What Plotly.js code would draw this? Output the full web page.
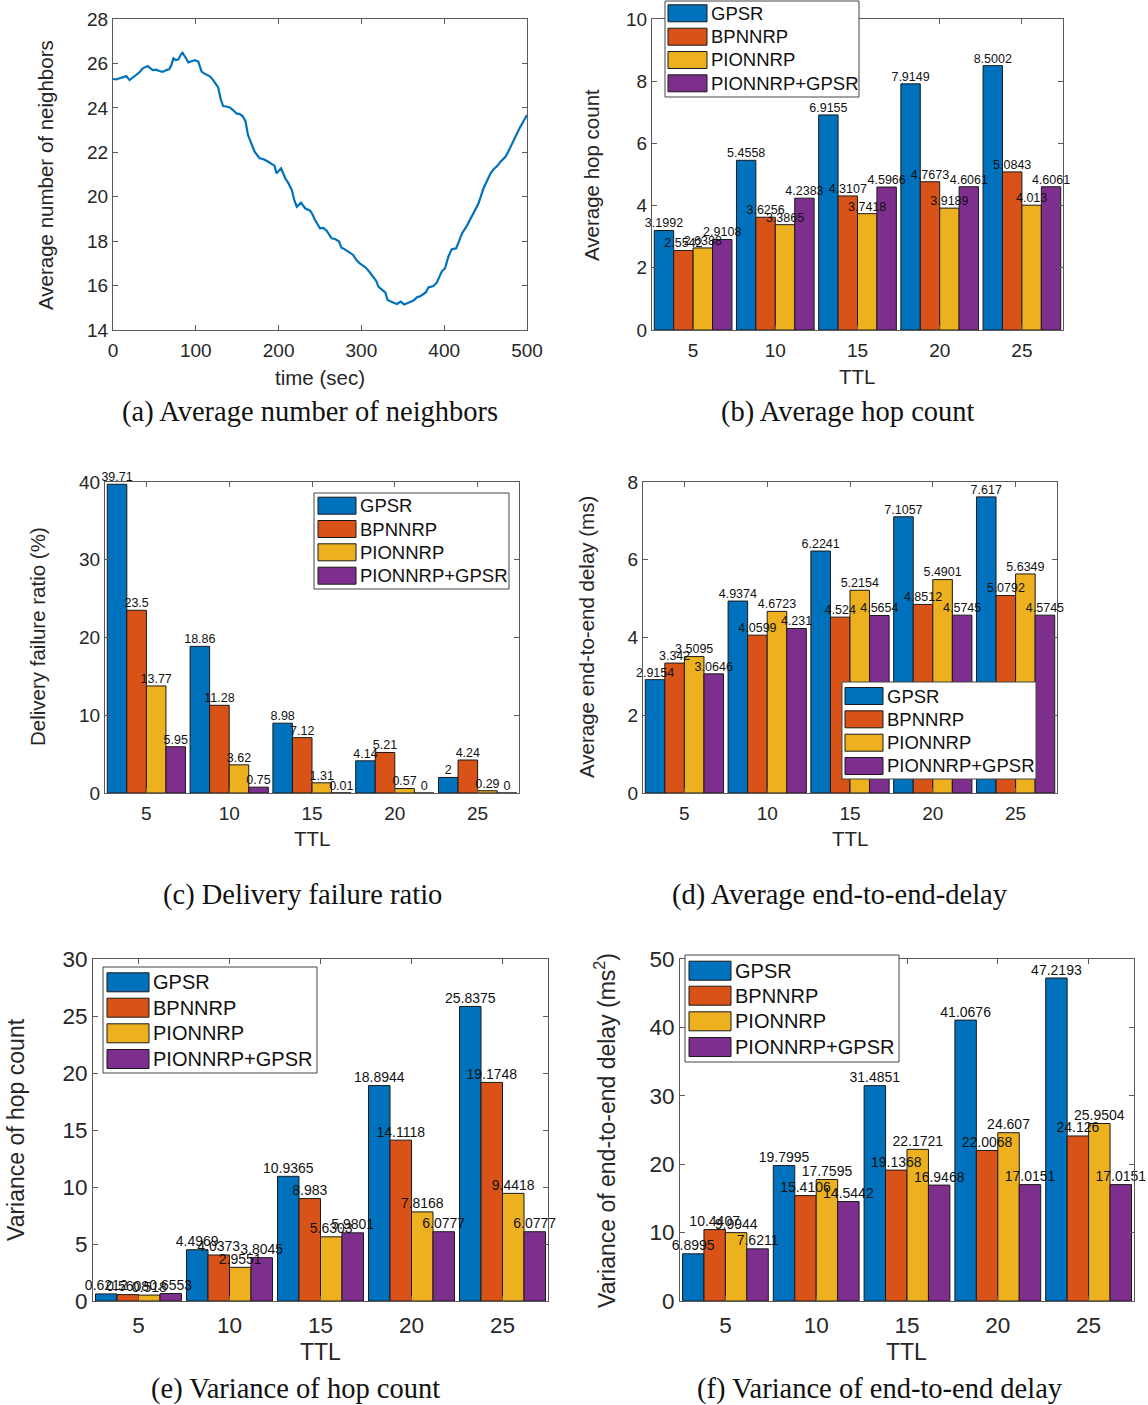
<!DOCTYPE html>
<html>
<head>
<meta charset="utf-8">
<script src="https://cdn.plot.ly/plotly-3.0.1.min.js"></script>
<style>html,body{margin:0;padding:0;background:#fff;}#chart{width:1148px;height:1405px;}</style>
</head>
<body>
<div id="chart"></div>
<script>
// ---------- data ----------
const timeSec = [0,4,8,12,16,20,24,28,32,36,42,48,52,56,60,64.5,68,70.5,73,76,79,82,84,87,91,95,99,103,107,110,113,117,121,127,130,133,137,141,145,149,153,156.5,160,163,167,171,177,181,185.5,191.5,195,197.5,200,203,205,208,212,216,219,222,227,232,238,241,244,250,254,258,264,268,273,276,280,285,290,294,298,302,306,310,314,318,320.5,325,329,331.5,335,339,343,347.5,351.6,355,359,363,367,371,375,378,381,387,391,394,397,401,405,409,414.5,418,421.5,427.5,433.5,437,441.5,447.5,452,456,460,464,468,474,477,480,483,486,491,494,496,500];
const avgNeighbors = [25.30,25.28,25.33,25.38,25.43,25.25,25.36,25.46,25.60,25.78,25.88,25.70,25.72,25.66,25.62,25.70,25.74,25.93,26.23,26.15,26.18,26.40,26.48,26.30,26.05,26.10,26.15,26.08,25.63,25.55,25.48,25.42,25.25,24.92,24.40,24.08,24.06,24.02,23.90,23.75,23.72,23.63,23.40,22.78,22.40,22.03,21.73,21.70,21.62,21.50,21.40,21.05,21.18,21.28,21.10,20.83,20.60,20.30,19.85,19.55,19.73,19.48,19.37,19.20,18.95,18.58,18.60,18.47,18.13,18.10,17.98,17.70,17.63,17.50,17.38,17.15,17.00,16.90,16.78,16.60,16.40,16.20,15.95,15.80,15.68,15.35,15.28,15.23,15.17,15.28,15.15,15.20,15.28,15.33,15.47,15.52,15.62,15.70,15.92,15.98,16.13,16.40,16.63,16.78,17.30,17.63,17.68,18.00,18.35,18.70,19.13,19.40,19.70,20.38,20.70,21.05,21.25,21.38,21.58,21.80,22.00,22.25,22.50,22.70,23.08,23.30,23.45,23.68];

const ttl = [5,10,15,20,25];
const seriesNames = ['GPSR','BPNNRP','PIONNRP','PIONNRP+GPSR'];

const hopGPSR   = [3.1992,5.4558,6.9155,7.9149,8.5002];
const hopBPNNRP = [2.5542,3.6256,4.3107,4.7673,5.0843];
const hopPIONNRP= [2.6388,3.3865,3.7418,3.9189,4.013];
const hopPG     = [2.9108,4.2383,4.5966,4.6061,4.6061];

const failGPSR   = [39.71,18.86,8.98,4.14,2];
const failBPNNRP = [23.5,11.28,7.12,5.21,4.24];
const failPIONNRP= [13.77,3.62,1.31,0.57,0.29];
const failPG     = [5.95,0.75,0.01,0,0];

const delayGPSR   = [2.9154,4.9374,6.2241,7.1057,7.617];
const delayBPNNRP = [3.342,4.0599,4.524,4.8512,5.0792];
const delayPIONNRP= [3.5095,4.6723,5.2154,5.4901,5.6349];
const delayPG     = [3.0646,4.231,4.5654,4.5745,4.5745];

const varHopGPSR   = [0.6212,4.4969,10.9365,18.8944,25.8375];
const varHopBPNNRP = [0.5608,4.0373,8.983,14.1118,19.1748];
const varHopPIONNRP= [0.518,2.9551,5.6303,7.8168,9.4418];
const varHopPG     = [0.6553,3.8045,5.9801,6.0777,6.0777];

const varDelGPSR   = [6.8995,19.7995,31.4851,41.0676,47.2193];
const varDelBPNNRP = [10.4407,15.4106,19.1368,22.0068,24.126];
const varDelPIONNRP= [9.9944,17.7595,22.1721,24.607,25.9504];
const varDelPG     = [7.6211,14.5442,16.9468,17.0151,17.0151];

// ---------- styling ----------
const W = 1148, H = 1405;
const colors = ['#0072BD','#D95319','#EDB120','#7E2F8E'];
const SANS = 'Liberation Sans, Arial, sans-serif';
const SERIF = 'Liberation Serif, Times New Roman, serif';
const AX = '#262626';
const LINE = '#5a5a5a';
const px = x => x / W;
const py = y => 1 - y / H;

const traces = [];
traces.push({
  type:'scatter', mode:'lines', x: timeSec, y: avgNeighbors,
  xaxis:'x', yaxis:'y', line:{color:'#0072BD', width:2.2}, showlegend:false, hoverinfo:'skip'
});

function addBars(sets, ax, labelSize){
  sets.forEach((vals,i)=>{
    traces.push({
      type:'bar', x: ttl, y: vals, name: seriesNames[i],
      xaxis:'x'+ax, yaxis:'y'+ax, offsetgroup:String(i), alignmentgroup:'g'+ax,
      marker:{color:colors[i], line:{color:'#1a1a1a', width:1}},
      showlegend:false, hoverinfo:'skip'
    });
  });
  // value labels drawn above all bars (scatter layer sits above bar layer)
  sets.forEach((vals,i)=>{
    traces.push({
      type:'scatter', mode:'text', x: ttl, y: vals,
      xaxis:'x'+ax, yaxis:'y'+ax, offsetgroup:String(i), alignmentgroup:'t'+ax,
      text: vals.map(v=>String(v)), textposition:'top center', cliponaxis:false,
      textfont:{family:SANS, size:labelSize, color:'#111'},
      showlegend:false, hoverinfo:'skip'
    });
  });
}
addBars([hopGPSR,hopBPNNRP,hopPIONNRP,hopPG], 2, 12.5);
addBars([failGPSR,failBPNNRP,failPIONNRP,failPG], 3, 12.5);
addBars([delayGPSR,delayBPNNRP,delayPIONNRP,delayPG], 4, 12.5);
addBars([varHopGPSR,varHopBPNNRP,varHopPIONNRP,varHopPG], 5, 14);
addBars([varDelGPSR,varDelBPNNRP,varDelPIONNRP,varDelPG], 6, 14);

function axis(dom, range, tickvals, anchor, fs, standoff){
  return {
    domain: dom, range: range, tickvals: tickvals, ticktext: tickvals.map(String),
    anchor: anchor, showgrid:false, zeroline:false, showline:true, linecolor:LINE, linewidth:1,
    mirror:'ticks', ticks:'inside', ticklen:5, tickcolor:LINE, tickwidth:1,
    ticklabelstandoff: standoff,
    tickfont:{family:SANS, size:fs, color:AX}, fixedrange:true
  };
}

const layout = {
  width:W, height:H, margin:{l:0,r:0,t:0,b:0}, paper_bgcolor:'#fff', plot_bgcolor:'#fff',
  showlegend:false, barmode:'group', bargap:0.055, bargroupgap:0,
  scattermode:'group', scattergap:0.055,
  xaxis:  axis([px(113),px(527)], [0,500], [0,100,200,300,400,500], 'y', 19, 3),
  yaxis:  axis([py(330),py(19)], [14,28], [14,16,18,20,22,24,26,28], 'x', 19, 0),
  xaxis2: axis([px(652),px(1063)], [2.5,27.5], ttl, 'y2', 19, 3),
  yaxis2: axis([py(330),py(19)], [0,10], [0,2,4,6,8,10], 'x2', 19, 0),
  xaxis3: axis([px(105),px(519)], [2.5,27.5], ttl, 'y3', 19, 3),
  yaxis3: axis([py(793),py(482)], [0,40], [0,10,20,30,40], 'x3', 19, 0),
  xaxis4: axis([px(643),px(1057)], [2.5,27.5], ttl, 'y4', 19, 3),
  yaxis4: axis([py(793),py(482)], [0,8], [0,2,4,6,8], 'x4', 19, 0),
  xaxis5: axis([px(93),px(548)], [2.5,27.5], ttl, 'y5', 22.5, 4),
  yaxis5: axis([py(1301),py(959)], [0,30], [0,5,10,15,20,25,30], 'x5', 22.5, 0),
  xaxis6: axis([px(680),px(1134)], [2.5,27.5], ttl, 'y6', 22.5, 4),
  yaxis6: axis([py(1301),py(959)], [0,50], [0,10,20,30,40,50], 'x6', 22.5, 0),
  shapes: [], annotations: []
};

function ann(text, x, y, opts){
  layout.annotations.push(Object.assign({
    text:text, x:px(x), y:py(y), xref:'paper', yref:'paper', showarrow:false,
    xanchor:'center', yanchor:'middle', font:{family:SANS, size:20.5, color:AX}
  }, opts||{}));
}

// axis titles
ann('Average number of neighbors', 45, 175, {textangle:-90});
ann('time (sec)', 320, 377);
ann('Average hop count', 591, 175, {textangle:-90});
ann('TTL', 857, 376);
ann('Delivery failure ratio (%)', 37, 637, {textangle:-90});
ann('TTL', 312, 838);
ann('Average end-to-end delay (ms)', 586, 637, {textangle:-90});
ann('TTL', 850, 838);
const bigT = {family:SANS, size:23, color:AX};
ann('Variance of hop count', 16, 1130, {textangle:-90, font:bigT});
ann('TTL', 320, 1352, {font:bigT});
ann('Variance of end-to-end delay (ms<sup>2</sup>)', 605, 1130, {textangle:-90, font:bigT});
ann('TTL', 906, 1352, {font:bigT});

// captions
const capFont = {family:SERIF, size:28.5, color:'#111'};
ann('(a) Average number of neighbors', 310, 412, {font:capFont});
ann('(b) Average hop count', 848, 412, {font:capFont});
ann('(c) Delivery failure ratio', 302, 895, {font:capFont});
ann('(d) Average end-to-end-delay', 840, 895, {font:capFont});
ann('(e) Variance of hop count', 295, 1389, {font:capFont});
ann('(f) Variance of end-to-end delay', 880, 1389, {font:capFont});

// legends (MATLAB-style boxes)
function legendBox(x0,y0,x1,y1, swX0, swX1, swH, textX, rows, fs){
  layout.shapes.push({type:'rect', xref:'paper', yref:'paper', x0:px(x0), x1:px(x1), y0:py(y1), y1:py(y0),
    line:{color:'#444', width:1}, fillcolor:'#fff', layer:'above'});
  rows.forEach((ry,i)=>{
    layout.shapes.push({type:'rect', xref:'paper', yref:'paper', x0:px(swX0), x1:px(swX1), y0:py(ry+swH/2), y1:py(ry-swH/2),
      line:{color:'#1a1a1a', width:1}, fillcolor:colors[i], layer:'above'});
    ann(seriesNames[i], textX, ry, {xanchor:'left', font:{family:SANS, size:fs, color:'#111'}});
  });
}
legendBox(665,1,859,97, 668,707,17, 709, [13.3,36.7,60,83.3], 18.5);
legendBox(314,493,509,589, 318,356,17, 358, [505.7,529,552.3,575.7], 18.5);
legendBox(842,682,1036,779, 845,883,17, 885, [696,719.3,742.7,766], 18.5);
legendBox(103,967,317,1073, 107,149,19, 151, [982.3,1007.7,1033.3,1059], 20);
legendBox(685,955,899,1062, 689,731,19, 733, [970.7,995.7,1021.3,1047], 20);

Plotly.newPlot('chart', traces, layout, {staticPlot:true, displayModeBar:false});
</script>
</body>
</html>
